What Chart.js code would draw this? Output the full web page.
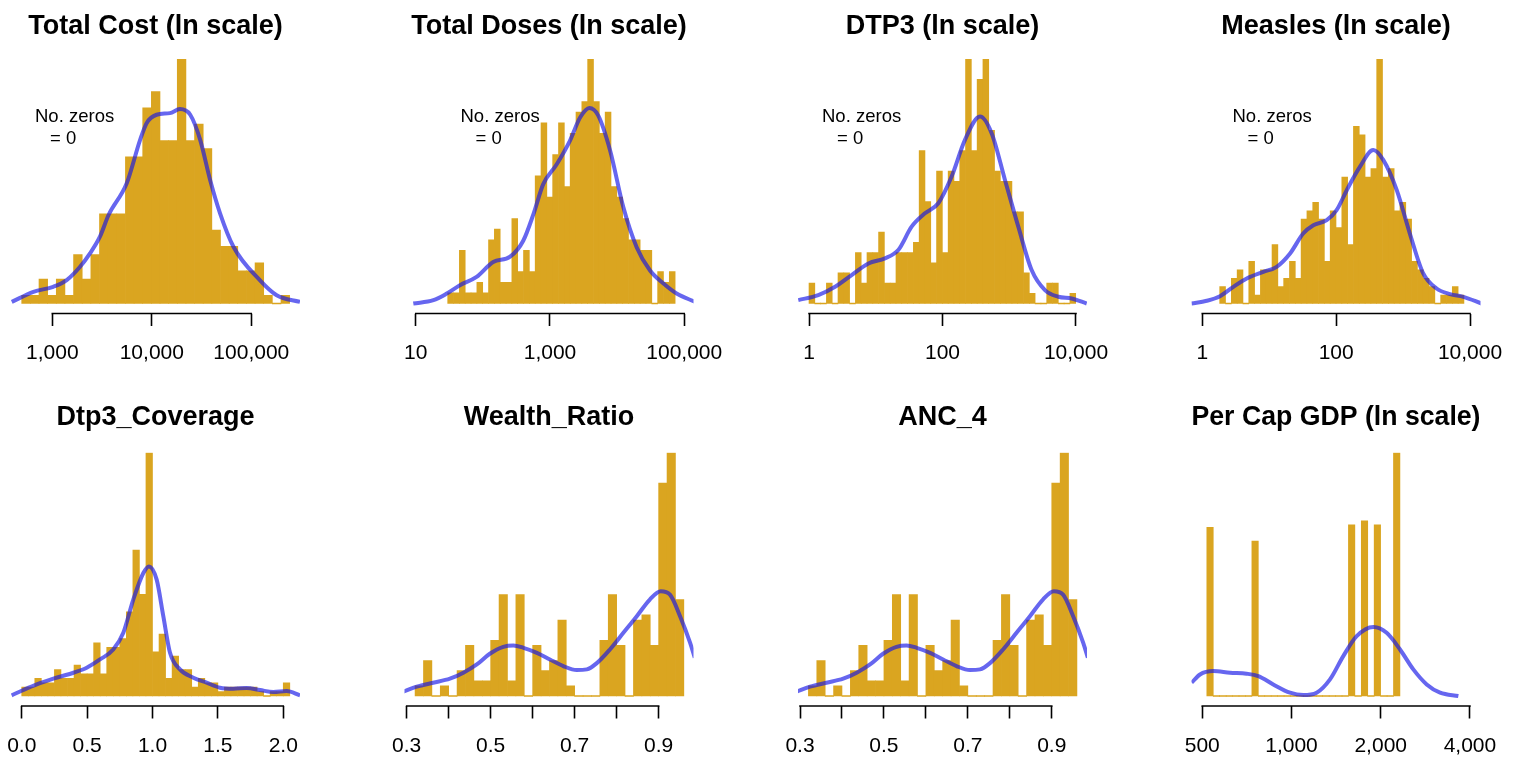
<!DOCTYPE html>
<html>
<head>
<meta charset="utf-8">
<title>Histogramas</title>
<script src="https://cdn.jsdelivr.net/npm/chart.js@4.4.0/dist/chart.umd.min.js"></script>
<style>
  html, body { margin: 0; padding: 0; background: #fff; }
  body { position: relative; width: 1513px; height: 759px; overflow: hidden; }
  canvas { position: absolute; }
</style>
</head>
<body>
<script>
// ---- dados (eixo x em ln para os painéis "ln scale") ----

// Total Cost (ln scale)
const costBinStart = 6.2, costBinWidth = 0.2;
const costCounts = [1,1,3,1,3,1,6,3,6,11,11,11,18,18,24,26,20,20,30,20,22,19,9,7,7,4,4,5,1,0,1];
const costDensX = [5.97,6.47,6.93,7.24,7.55,7.78,8.01,8.21,8.63,8.94,9.09,9.32,9.63,9.86,10.10,10.33,10.56,10.79,11.10,11.71,12.10,12.64];
const costDensY = [0.2,1.43,2.05,2.87,4.51,6.15,8.2,10.86,14.75,20.08,22.13,23.16,23.36,23.85,23.16,20.08,15.16,11.07,6.97,2.87,1.02,0.2];
const costTicks = [1000, 10000, 100000];
const costTickLabels = ['1,000', '10,000', '100,000'];

// Total Doses (ln scale)
const dosesBinStart = 3.4, dosesBinWidth = 0.2;
const dosesCounts = [1,1,5,1,1,2,1,6,7,2,2,8,3,5,3,12,17,10,14,17,11,16,18,19,23,19,16,18,11,10,8,6,6,5,5,0,3,2,3];
const dosesDensX = [2.22,2.91,3.37,3.82,4.39,4.96,5.54,5.99,6.34,6.68,7.14,7.59,7.94,8.26,8.56,8.97,9.42,9.88,10.34,10.79,11.25,11.88];
const dosesDensY = [0,0.31,0.94,1.72,2.5,3.9,4.4,5.9,8.4,11.25,13.1,15.3,17.5,18.4,17.7,14.4,9.1,5.3,3.1,1.9,0.94,0.16];
const dosesTicks = [10, 1000, 100000];
const dosesTickLabels = ['10', '1,000', '100,000'];

// DTP3 (ln scale)
const dtp3BinStart = 0, dtp3BinWidth = 0.2;
const dtp3Counts = [2,0,0,2,0,3,3,0,5,2,5,5,7,2,2,5,5,5,6,15,10,4,13,5,13,12,15,24,15,22,24,17,13,12,12,9,9,3,1,0,0,2,2,0,0,1];
const dtp3DensX = [-0.37,0.32,0.90,1.47,2.05,2.62,3.08,3.54,4.00,4.46,4.92,5.38,5.90,6.30,6.76,7.22,7.68,8.14,8.60,9.06,9.58];
const dtp3DensY = [0.33,0.82,1.64,2.79,3.93,4.43,5.25,7.54,8.85,9.84,12.46,16.07,18.36,16.72,12.13,7.54,3.28,1.31,0.66,0.49,0];
const dtp3Ticks = [1, 100, 10000];
const dtp3TickLabels = ['1', '100', '10,000'];

// Measles (ln scale)
const measlesBinStart = 0.6, measlesBinWidth = 0.2;
const measlesCounts = [2,0,3,4,0,5,1,4,4,7,2,3,5,3,10,11,12,10,5,11,9,15,7,21,20,15,16,29,15,16,11,12,10,5,4,3,2,0,1,1,2,1];
const measlesDensX = [-0.37,0.15,0.61,1.07,1.53,2.10,2.56,3.02,3.47,3.82,4.28,4.62,4.97,5.42,5.88,6.23,6.69,7.14,7.60,8.06,8.52,8.98,9.61];
const measlesDensY = [0,0.32,0.87,1.98,2.96,3.75,4.35,5.93,8.30,9.29,9.88,11.07,13.44,16.2,18.2,17.0,13.44,8.3,3.56,1.78,1.11,0.79,0];
const measlesTicks = [1, 100, 10000];
const measlesTickLabels = ['1', '100', '10,000'];

// Dtp3_Coverage
const coverageBinStart = 0, coverageBinWidth = 0.05;
const coverageCounts = [2,2,4,3,3,6,4,4,7,5,5,12,5,11,11,13,19,33,23,55,10,14,4,9,6,6,2,4,3,3,1,2,2,2,2,2,1,0,1,1,3];
const coverageDensX = [-0.077,0.012,0.115,0.242,0.395,0.497,0.599,0.700,0.777,0.853,0.930,0.973,1.032,1.083,1.134,1.210,1.312,1.414,1.516,1.618,1.720,1.822,1.924,2.026,2.128];
const coverageDensY = [0.15,1.35,2.63,3.91,5.26,6.39,8.27,10.5,14.3,21.8,27.8,29.3,26.3,18.0,9.77,6.02,4.14,3.0,1.88,1.65,1.8,1.35,0.9,1.13,0.15];
const coverageTicks = [0, 0.5, 1, 1.5, 2];
const coverageTickLabels = ['0.0', '0.5', '1.0', '1.5', '2.0'];

// Wealth_Ratio
const wealthBinStart = 0.32, wealthBinWidth = 0.02;
const wealthCounts = [2,7,0,2,0,5,10,3,3,11,20,3,20,0,10,5,7,15,2,0,0,0,11,20,10,0,15,16,10,42,48,19];
const wealthDensX = [0.292,0.324,0.363,0.403,0.435,0.467,0.498,0.530,0.554,0.578,0.610,0.641,0.673,0.705,0.729,0.752,0.784,0.816,0.848,0.879,0.905,0.927,0.951,0.975,0.986];
const wealthDensY = [0.85,1.84,2.62,3.41,4.59,6.23,8.33,9.70,9.97,9.51,8.52,7.21,5.9,5.11,5.25,6.43,9.18,12.46,15.74,19.02,20.66,20.0,15.74,10.49,7.54];
const wealthTicks = [0.3, 0.4, 0.5, 0.6, 0.7, 0.8, 0.9];
const wealthTickLabels = ['0.3', '', '0.5', '', '0.7', '', '0.9'];

// ANC_4
const ancBinStart = 0.32, ancBinWidth = 0.02;
const ancCounts = [2,7,0,2,0,5,10,3,3,11,20,3,20,0,10,5,7,15,2,0,0,0,11,20,10,0,15,16,10,42,48,19];
const ancDensX = [0.292,0.324,0.363,0.403,0.435,0.467,0.498,0.530,0.554,0.578,0.610,0.641,0.673,0.705,0.729,0.752,0.784,0.816,0.848,0.879,0.905,0.927,0.951,0.975,0.986];
const ancDensY = [0.85,1.84,2.62,3.41,4.59,6.23,8.33,9.70,9.97,9.51,8.52,7.21,5.9,5.11,5.25,6.43,9.18,12.46,15.74,19.02,20.66,20.0,15.74,10.49,7.54];
const ancTicks = [0.3, 0.4, 0.5, 0.6, 0.7, 0.8, 0.9];
const ancTickLabels = ['0.3', '', '0.5', '', '0.7', '', '0.9'];

// Per Cap GDP (ln scale)
const gdpBinStart = 6.25, gdpBinWidth = 0.05;
const gdpCounts = [20.8,0,0,0,0,0,0,19.1,0,0,0,0,0,0,0,0,0,0,0,0,0,0,21.1,0,21.6,0,21.1,0,0,30];
const gdpDensX = [6.132,6.197,6.300,6.430,6.559,6.650,6.766,6.896,6.999,7.103,7.207,7.310,7.414,7.544,7.647,7.751,7.854,7.958,8.062,8.204];
const gdpDensY = [1.64,2.66,3.07,2.87,2.75,2.46,1.43,0.41,0.12,0.41,2.05,4.92,7.38,8.52,7.79,5.74,3.28,1.43,0.41,0];
const gdpTicks = [500, 1000, 2000, 4000];
const gdpTickLabels = ['500', '1,000', '2,000', '4,000'];

// ---- aparência e layout ----
const cores = {
  barra: '#DAA520',
  curva: 'rgba(20, 20, 230, 0.65)',
  eixo:  '#000',
};
const FONTE = '"Liberation Sans", Arial, Helvetica, sans-serif';

const linhas = [
  { top: 0,   titleY: 27,  areaTop: 59,    areaBottom: 313.5 },
  { top: 385, titleY: 418, areaTop: 452.7, areaBottom: 706 },
];
const AREA_LEFT = 11, AREA_W = 289, COL_STEP = 393.5;
const PAD_X = 48, AXIS_H = 60, TITLE_SIZE = 27, BASE_GAP = 10;

const paineis = [
  { titulo: 'Total Cost (ln scale)', col: 0, lin: 0, inicio: costBinStart, largura: costBinWidth, contagens: costCounts,
    densX: costDensX, densY: costDensY, ticks: costTicks.map(v => Math.log(v)), rotulos: costTickLabels, xMin: 5.952, xMax: 12.64, zeros: 24 },
  { titulo: 'Total Doses (ln scale)', col: 1, lin: 0, inicio: dosesBinStart, largura: dosesBinWidth, contagens: dosesCounts,
    densX: dosesDensX, densY: dosesDensY, ticks: dosesTicks.map(v => Math.log(v)), rotulos: dosesTickLabels, xMin: 1.918, xMax: 11.83, zeros: 56 },
  { titulo: 'DTP3 (ln scale)', col: 2, lin: 0, inicio: dtp3BinStart, largura: dtp3BinWidth, contagens: dtp3Counts,
    densX: dtp3DensX, densY: dtp3DensY, ticks: dtp3Ticks.map(v => Math.log(v)), rotulos: dtp3TickLabels, xMin: -0.38, xMax: 9.59, zeros: 24 },
  { titulo: 'Measles (ln scale)', col: 3, lin: 0, inicio: measlesBinStart, largura: measlesBinWidth, contagens: measlesCounts,
    densX: measlesDensX, densY: measlesDensY, ticks: measlesTicks.map(v => Math.log(v)), rotulos: measlesTickLabels, xMin: -0.37, xMax: 9.57, zeros: 41 },
  { titulo: 'Dtp3_Coverage', col: 0, lin: 1, inicio: coverageBinStart, largura: coverageBinWidth, contagens: coverageCounts,
    densX: coverageDensX, densY: coverageDensY, ticks: coverageTicks, rotulos: coverageTickLabels, xMin: -0.082, xMax: 2.128 },
  { titulo: 'Wealth_Ratio', col: 1, lin: 1, inicio: wealthBinStart, largura: wealthBinWidth, contagens: wealthCounts,
    densX: wealthDensX, densY: wealthDensY, ticks: wealthTicks, rotulos: wealthTickLabels, xMin: 0.2948, xMax: 0.983 },
  { titulo: 'ANC_4', col: 2, lin: 1, inicio: ancBinStart, largura: ancBinWidth, contagens: ancCounts,
    densX: ancDensX, densY: ancDensY, ticks: ancTicks, rotulos: ancTickLabels, xMin: 0.2952, xMax: 0.984 },
  { titulo: 'Per Cap GDP (ln scale)', col: 3, lin: 1, inicio: gdpBinStart, largura: gdpBinWidth, contagens: gdpCounts,
    densX: gdpDensX, densY: gdpDensY, ticks: gdpTicks.map(v => Math.log(v)), rotulos: gdpTickLabels, xMin: 6.131, xMax: 8.376 },
];

// linha do eixo só entre o primeiro e o último tick, como no R
const linhaEixo = {
  id: 'linhaEixo',
  afterDraw(chart) {
    const s = chart.scales.x;
    const t = s.ticks;
    const x0 = s.getPixelForValue(t[0].value);
    const x1 = s.getPixelForValue(t[t.length - 1].value);
    const ctx = chart.ctx;
    ctx.save();
    ctx.strokeStyle = cores.eixo;
    ctx.lineWidth = 1.6;
    ctx.beginPath();
    ctx.moveTo(x0 - 0.8, s.top);
    ctx.lineTo(x1 + 0.8, s.top);
    ctx.stroke();
    ctx.restore();
  },
};

function notaZeros(p) {
  return {
    id: 'notaZeros',
    afterDatasetsDraw(chart) {
      if (p.zeros === undefined) return;
      const a = chart.chartArea;
      const ctx = chart.ctx;
      ctx.save();
      ctx.fillStyle = '#000';
      ctx.font = `18.5px ${FONTE}`;
      ctx.textAlign = 'left';
      ctx.textBaseline = 'middle';
      ctx.fillText('No. zeros', a.left + p.zeros, a.top + 57.5);
      ctx.fillText('= 0', a.left + p.zeros + 15, a.top + 80);
      ctx.restore();
    },
  };
}

function criarPainel(p) {
  const lin = linhas[p.lin];
  const areaLeft = AREA_LEFT + COL_STEP * p.col;
  const left = Math.floor(areaLeft - PAD_X);
  const width = AREA_W + 2 * PAD_X;
  const padL = areaLeft - left;
  const padR = width - padL - AREA_W;
  const height = Math.ceil(lin.areaBottom - lin.top + AXIS_H + 2);
  const padB = height - AXIS_H - (lin.areaBottom - lin.top);
  const lh = TITLE_SIZE * 1.2;

  const cv = document.createElement('canvas');
  cv.width = width;
  cv.height = height;
  cv.style.left = left + 'px';
  cv.style.top = lin.top + 'px';
  cv.style.width = width + 'px';
  cv.style.height = height + 'px';
  document.body.appendChild(cv);

  const yMax = Math.max(...p.contagens);
  const yMin = -yMax * BASE_GAP / (lin.areaBottom - lin.areaTop - BASE_GAP);

  new Chart(cv.getContext('2d'), {
    type: 'bar',
    data: {
      datasets: [
        {
          type: 'line',
          order: 0,
          data: p.densX.map((x, i) => ({ x, y: p.densY[i] })),
          borderColor: cores.curva,
          borderWidth: 4,
          pointRadius: 0,
          cubicInterpolationMode: 'monotone',
          fill: false,
        },
        {
          type: 'bar',
          order: 1,
          data: p.contagens.map((c, i) => ({ x: p.inicio + (i + 0.5) * p.largura, y: c })),
          backgroundColor: cores.barra,
          borderWidth: 0,
          barPercentage: 1,
          categoryPercentage: 1,
          minBarLength: 1,
        },
      ],
    },
    options: {
      responsive: false,
      animation: false,
      devicePixelRatio: 1,
      events: [],
      layout: { autoPadding: false, padding: { left: padL, right: padR, top: 0, bottom: padB } },
      plugins: {
        legend: { display: false },
        tooltip: { enabled: false },
        title: {
          display: true,
          text: p.titulo,
          color: '#000',
          font: { family: FONTE, size: TITLE_SIZE, weight: 'bold', lineHeight: 1.2 },
          padding: { top: lin.titleY - lin.top - lh / 2, bottom: lin.areaTop - lin.titleY - lh / 2 },
        },
      },
      scales: {
        x: {
          type: 'linear',
          offset: false,
          min: p.xMin,
          max: p.xMax,
          afterBuildTicks: (s) => { s.ticks = p.ticks.map(v => ({ value: v })); },
          afterFit: (s) => { s.height = AXIS_H; s.paddingLeft = 0; s.paddingRight = 0; },
          grid: { display: true, offset: false, drawOnChartArea: false, drawTicks: true, tickLength: 12.5, tickWidth: 1.6, tickColor: cores.eixo },
          border: { display: false },
          ticks: {
            autoSkip: false,
            maxRotation: 0,
            minRotation: 0,
            padding: 14.9,
            color: '#000',
            font: { family: FONTE, size: 21, lineHeight: 1.2 },
            callback: (v, i) => p.rotulos[i],
          },
        },
        y: { display: false, min: yMin, max: yMax },
      },
    },
    plugins: [linhaEixo, notaZeros(p)],
  });
}

document.addEventListener('DOMContentLoaded', () => {
  paineis.forEach(criarPainel);
});
</script>
</body>
</html>
